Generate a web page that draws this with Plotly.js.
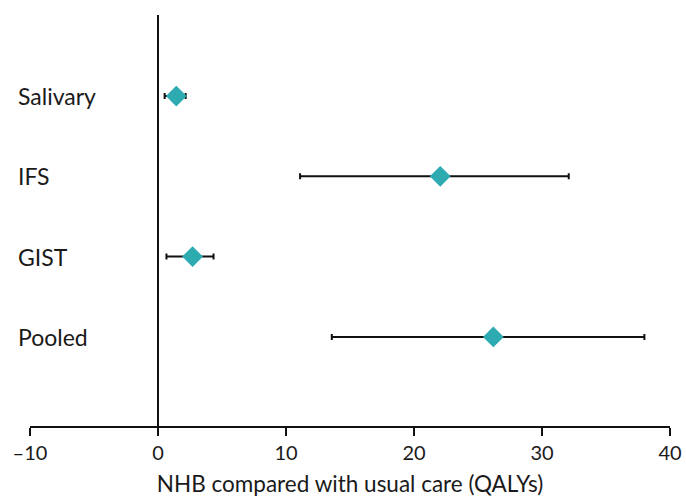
<!DOCTYPE html>
<html>
<head>
<meta charset="utf-8">
<script src="https://cdn.plot.ly/plotly-3.0.1.min.js"></script>
<style>html,body{margin:0;padding:0;background:#fff;}#chart{width:686px;height:499px;}</style>
</head>
<body>
<div id="chart"></div>
<script>
const categories = ["Salivary", "IFS", "GIST", "Pooled"];
const positions = [4, 3, 2, 1];
const nhb = [1.43, 22.05, 2.7, 26.2];
const lower = [0.52, 11.1, 0.66, 13.58];
const upper = [2.16, 32.09, 4.34, 38.0];
const tickVals = [-10, 0, 10, 20, 30, 40];
const tickText = ["\u201310", "0", "10", "20", "30", "40"];

const font = "Lato, 'Open Sans', sans-serif";

const trace = {
  type: "scatter",
  mode: "markers",
  x: nhb,
  y: positions,
  marker: {symbol: "diamond", size: 16, color: "#2eabb0", line: {width: 0}},
  error_x: {
    type: "data",
    symmetric: false,
    array: nhb.map((v, i) => upper[i] - v),
    arrayminus: nhb.map((v, i) => v - lower[i]),
    color: "#111111",
    thickness: 2,
    width: 3
  },
  hoverinfo: "skip",
  showlegend: false
};

const annotations = categories.map((c, i) => ({
  text: c,
  xref: "paper",
  yref: "y",
  x: -30 / 640,
  y: positions[i],
  xanchor: "left",
  yanchor: "middle",
  xshift: 16,
  showarrow: false,
  font: {family: font, size: 23, color: "#1a1a1a"}
}));

const layout = {
  width: 686,
  height: 499,
  margin: {l: 30, r: 16, t: 15, b: 73},
  paper_bgcolor: "#ffffff",
  plot_bgcolor: "#ffffff",
  font: {family: font, size: 20, color: "#1a1a1a"},
  xaxis: {
    range: [-10, 40],
    tickvals: tickVals,
    ticktext: tickText,
    showgrid: false,
    zeroline: true,
    zerolinecolor: "#111111",
    zerolinewidth: 2,
    showline: true,
    linecolor: "#111111",
    linewidth: 2,
    ticks: "outside",
    ticklen: 8,
    tickwidth: 2,
    tickcolor: "#111111",
    tickfont: {family: font, size: 20, color: "#1a1a1a"},
    title: {text: "NHB compared with usual care (QALYs)", font: {family: font, size: 22.5, color: "#1a1a1a"}, standoff: 13},
    fixedrange: true
  },
  yaxis: {
    range: [-0.11, 5.01],
    showgrid: false,
    zeroline: false,
    showline: false,
    showticklabels: false,
    ticks: "",
    fixedrange: true
  },
  annotations: annotations
};

Plotly.newPlot("chart", [trace], layout, {displayModeBar: false, staticPlot: true});
</script>
</body>
</html>
